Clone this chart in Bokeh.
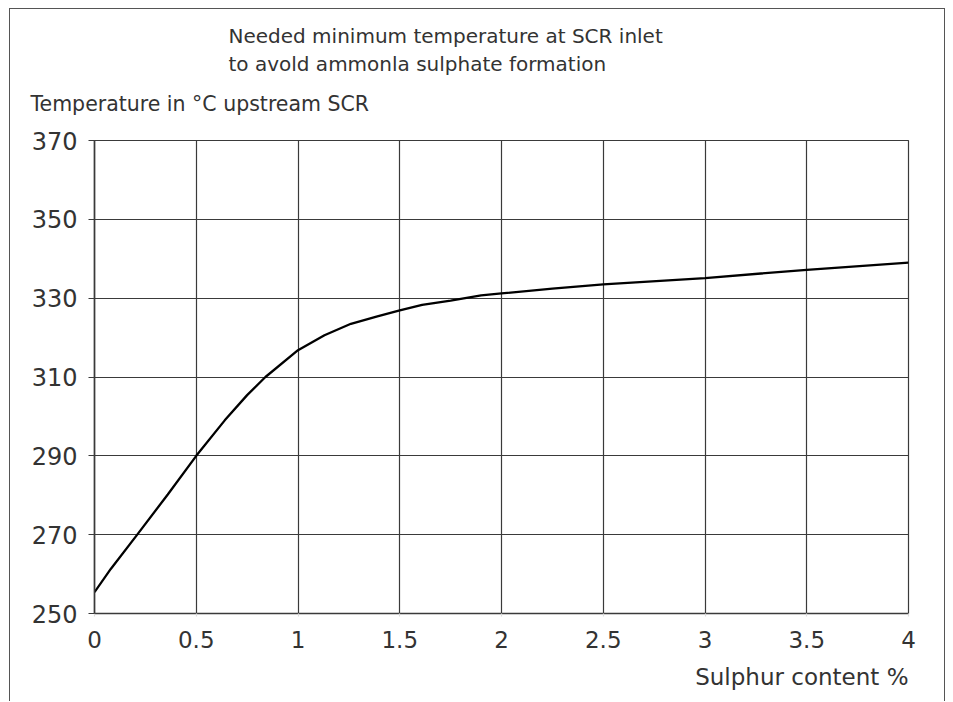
from bokeh.plotting import figure
from bokeh.models import Title, FixedTicker, Range1d
from bokeh.embed import file_html
from bokeh.resources import INLINE

# Data
sulphur = [0.0, 0.08, 0.21, 0.36, 0.5, 0.64, 0.75, 0.84, 1.0, 1.13, 1.26, 1.39, 1.5, 1.61, 1.75, 1.9, 2.0, 2.25, 2.5, 3.0, 3.5, 4.0]
temperature = [255.4, 261.3, 270.0, 280.2, 290.0, 299.0, 305.4, 310.0, 316.8, 320.6, 323.5, 325.4, 326.9, 328.3, 329.4, 330.7, 331.2, 332.4, 333.5, 335.1, 337.2, 339.0]
x_ticks = [0, 0.5, 1, 1.5, 2, 2.5, 3, 3.5, 4]
x_tick_labels = ["0", "0.5", "1", "1.5", "2", "2.5", "3", "3.5", "4"]
y_ticks = [250, 270, 290, 310, 330, 350, 370]

title_lines = ["Needed minimum temperature at SCR inlet", "to avold ammonla sulphate formation"]
y_title = "Temperature in \u00b0C upstream SCR"
x_title = "Sulphur content %"

FONT = "DejaVu Sans"
TXT = "#333333"
GRID = "#3a3a3a"

# canvas starts at page (10, 9) because of margin + border
p = figure(width=936, height=693, output_backend="svg", toolbar_location=None,
           x_range=Range1d(0, 4), y_range=Range1d(250, 370),
           min_border_left=84, min_border_right=38, min_border_top=131, min_border_bottom=89)
p.margin = (8, 0, 0, 9)
p.styles = {"border-left": "1px solid #555", "border-top": "1px solid #555",
            "border-right": "1px solid #555"}
p.background_fill_color = "white"
p.border_fill_color = "white"
p.outline_line_color = GRID
p.outline_line_width = 1.2

p.xaxis.ticker = FixedTicker(ticks=x_ticks)
p.xaxis.major_label_overrides = {t: l for t, l in zip(x_ticks, x_tick_labels)}
p.yaxis.ticker = FixedTicker(ticks=y_ticks)
for ax in (p.xaxis, p.yaxis):
    ax.axis_line_color = GRID
    ax.axis_line_width = 1.6
    ax.major_tick_line_color = GRID
    ax.major_tick_line_width = 1.2
    ax.minor_tick_line_color = None
    ax.major_label_text_font = FONT
    ax.major_label_text_color = TXT
p.xaxis.major_label_text_font_size = "23px"
p.yaxis.major_label_text_font_size = "24px"
p.xaxis.major_tick_out = 3
p.xaxis.major_tick_in = 0
p.xaxis.major_tick_line_color = "#dddddd"
p.xaxis.major_label_standoff = 14
p.yaxis.major_tick_out = 6
p.yaxis.major_tick_in = 0
p.yaxis.major_label_standoff = 11

p.xgrid.grid_line_color = GRID
p.ygrid.grid_line_color = GRID
p.xgrid.grid_line_width = 1.2
p.ygrid.grid_line_width = 1.2
p.xgrid.ticker = FixedTicker(ticks=x_ticks)
p.ygrid.ticker = FixedTicker(ticks=y_ticks)

p.line(sulphur, temperature, line_color="black", line_width=2.3)

common = dict(text_font=FONT, text_color=TXT, text_font_style="normal")
# above panels: added closest-to-frame first
p.add_layout(Title(text=y_title, align="left", offset=-64, standoff=50,
                   text_font_size="20.5px", **common), "above")
p.add_layout(Title(text=title_lines[1], align="left", offset=134, standoff=-22,
                   text_font_size="20px", **common), "above")
p.add_layout(Title(text=title_lines[0], align="left", offset=134, standoff=25,
                   text_font_size="20px", **common), "above")
p.add_layout(Title(text=x_title, align="right", offset=0, standoff=23,
                   text_font_size="23px", **common), "below")

open("out.html", "w").write(file_html(p, INLINE))
